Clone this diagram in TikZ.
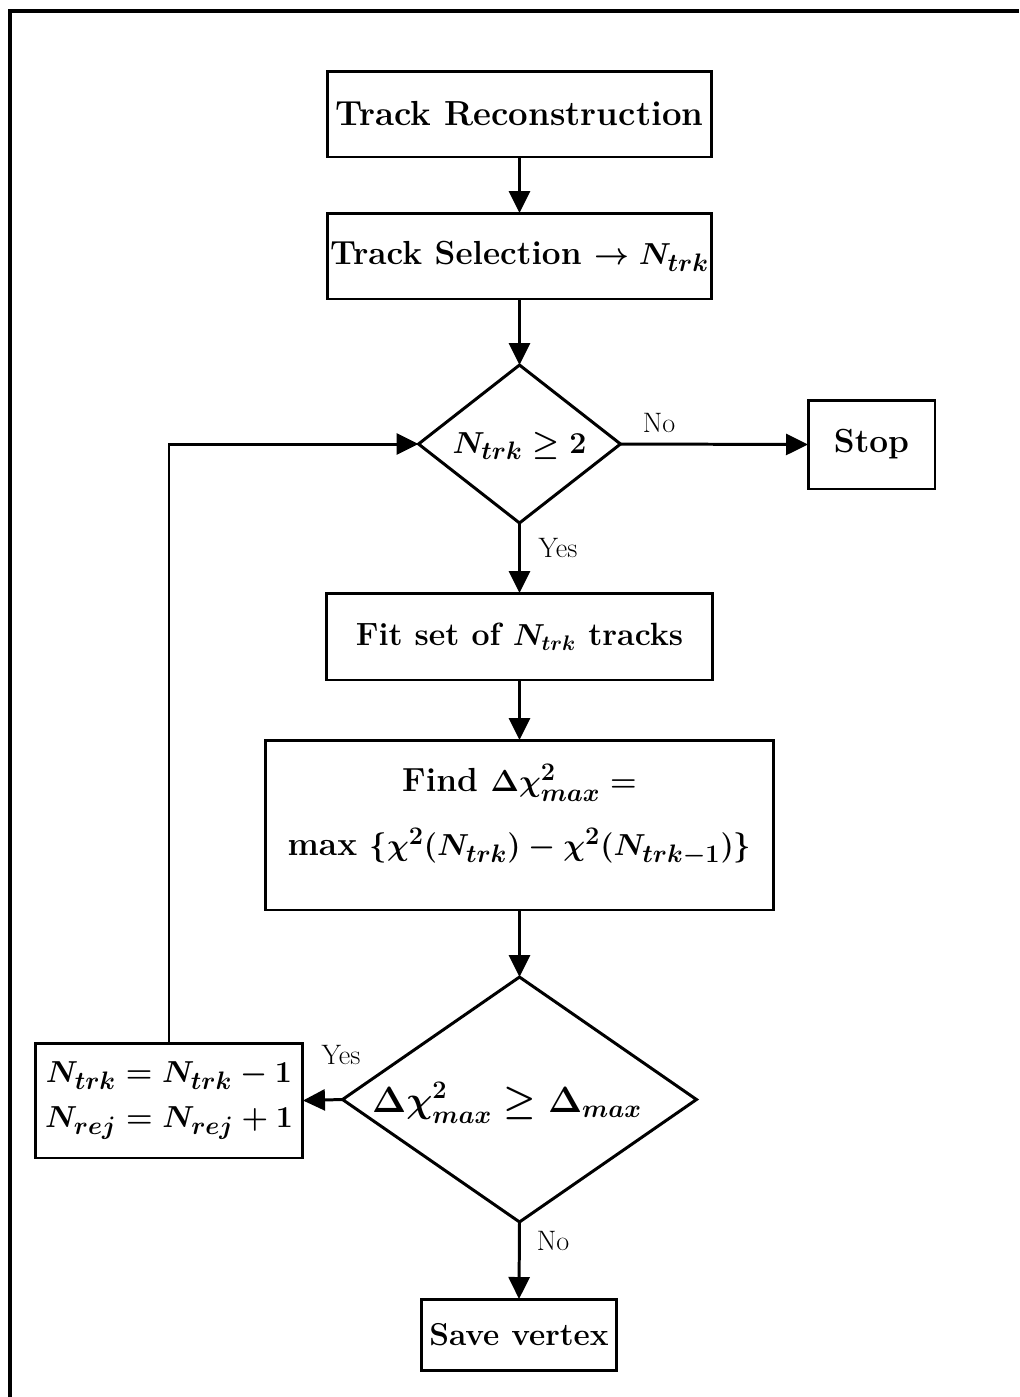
\documentclass[tikz,border=0pt]{standalone}
\usetikzlibrary{shapes.geometric,arrows.meta}
\begin{document}
\begin{tikzpicture}[x=0.02cm,y=-0.02cm,
  every node/.style={inner sep=0pt,outer sep=0pt},
  box/.style={draw,line width=1.7pt,rectangle,font=\fontsize{19}{23}\selectfont\bfseries\boldmath},
  dia/.style={draw,line width=1.7pt,diamond},
  arr/.style={line width=1.7pt,-{Triangle[length=0.44cm,width=0.42cm]}},
  lbl/.style={font=\fontsize{16}{18}\selectfont}]
\useasboundingbox (0,0) rectangle (1019,1397);
\draw[line width=2pt] (10,1397) -- (10,11) -- (1019,11);
\node[box,minimum width=7.7cm,minimum height=1.72cm,font=\fontsize{19.8}{23}\selectfont\bfseries] (tr) at (519.5,114) {Track Reconstruction};
\node[box,minimum width=7.7cm,minimum height=1.72cm] (ts) at (519.5,256) {Track Selection $\rightarrow N_{trk}$};
\node[dia,minimum width=4.04cm,minimum height=3.16cm] (d1) at (519.5,444) {};
\node[font=\fontsize{19}{23}\selectfont\bfseries\boldmath] (d1txt) at (519.5,446) {$N_{trk}\geq 2$};
\node[box,minimum width=2.54cm,minimum height=1.78cm] (stop) at (871.5,444.5) {Stop};
\node[box,minimum width=7.72cm,minimum height=1.74cm,font=\fontsize{18.3}{22}\selectfont\bfseries\boldmath] (fit) at (519.5,636.5) {Fit set of $N_{trk}$ tracks};
\node[box,minimum width=10.16cm,minimum height=3.4cm] (find) at (519.5,825) {};
\node[align=center,font=\fontsize{19}{36}\selectfont\bfseries\boldmath] (findtxt) at (519.5,815) {Find $\Delta\chi^2_{max}=$\\ max $\{\chi^2(N_{trk})-\chi^2(N_{trk-1})\}$};
\node[dia,minimum width=7.08cm,minimum height=4.9cm] (d2) at (519.5,1099.5) {};
\node[font=\fontsize{21}{25}\selectfont\bfseries\boldmath] (d2txt) at (507,1103) {$\Delta\chi^2_{max}\geq\Delta_{max}$};
\node[box,minimum width=5.36cm,minimum height=2.3cm,align=center,font=\fontsize{19}{26}\selectfont\bfseries\boldmath] (nb) at (169,1100.5) {$N_{trk}=N_{trk}-1$\\ $N_{rej}=N_{rej}+1$};
\node[box,minimum width=3.92cm,minimum height=1.42cm,font=\fontsize{18}{22}\selectfont\bfseries] (save) at (519,1334.5) {Save vertex};
\draw[arr] (tr) -- (ts);
\draw[arr] (ts) -- (d1);
\draw[arr] (d1.east) -- (stop.west);
\draw[arr] (d1.south) -- (fit.north);
\draw[arr] (fit) -- (find);
\draw[arr] (find.south) -- (d2.north);
\draw[arr] (d2.west) -- (nb.east);
\draw[arr] (d2.south) -- (save.north);
\draw[arr] (nb.north) |- (d1.west);
\node[lbl] (lno1) at (659,423) {No};
\node[lbl] (lyes1) at (558,548) {Yes};
\node[lbl] (lyes2) at (341,1055) {Yes};
\node[lbl] (lno2) at (553,1241) {No};
\end{tikzpicture}
\end{document}
